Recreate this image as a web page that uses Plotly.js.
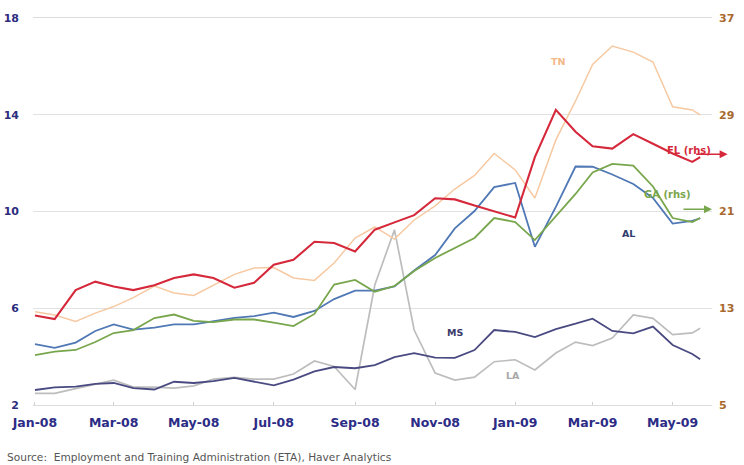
<!DOCTYPE html>
<html>
<head>
<meta charset="utf-8">
<script src="https://cdn.plot.ly/plotly-3.0.1.min.js"></script>
<style>html,body{margin:0;padding:0;background:#fff;}#chart{width:744px;height:465px;}</style>
</head>
<body>
<div id="chart"></div>
<script>
// Semi-monthly observation dates
const dates = [
  "2008-01-01","2008-01-16","2008-02-01","2008-02-16","2008-03-01","2008-03-16",
  "2008-04-01","2008-04-16","2008-05-01","2008-05-16","2008-06-01","2008-06-16",
  "2008-07-01","2008-07-16","2008-08-01","2008-08-16","2008-09-01","2008-09-16",
  "2008-10-01","2008-10-16","2008-11-01","2008-11-16","2008-12-01","2008-12-16",
  "2009-01-01","2009-01-16","2009-02-01","2009-02-16","2009-03-01","2009-03-16",
  "2009-04-01","2009-04-16","2009-05-01","2009-05-16","2009-05-22"
];
// Left-hand scale series
const TN = [5.86,5.72,5.45,5.80,6.07,6.44,6.92,6.63,6.53,6.94,7.40,7.66,7.68,7.25,7.15,7.87,8.90,9.36,8.86,9.65,10.23,10.93,11.49,12.40,11.72,10.56,12.96,14.57,16.08,16.84,16.59,16.18,14.33,14.20,13.99];
const AL = [4.52,4.36,4.58,5.06,5.33,5.12,5.20,5.33,5.33,5.47,5.60,5.67,5.82,5.64,5.89,6.38,6.73,6.73,6.90,7.56,8.20,9.30,10.02,11.01,11.18,8.54,10.19,11.86,11.85,11.53,11.14,10.56,9.50,9.61,9.72];
const MS = [2.62,2.73,2.76,2.87,2.91,2.70,2.64,2.96,2.91,2.99,3.12,2.95,2.81,3.05,3.39,3.57,3.52,3.65,3.98,4.14,3.96,3.95,4.27,5.10,5.02,4.81,5.14,5.36,5.57,5.06,4.96,5.24,4.48,4.11,3.89];
const LA = [2.48,2.48,2.68,2.87,3.03,2.74,2.74,2.70,2.79,3.07,3.14,3.07,3.07,3.28,3.82,3.59,2.64,6.96,9.24,5.10,3.32,3.03,3.15,3.79,3.87,3.45,4.15,4.60,4.46,4.77,5.72,5.58,4.91,4.98,5.17];
// Right-hand scale series
const FL = [12.4,12.1,14.5,15.2,14.8,14.5,14.9,15.5,15.8,15.5,14.7,15.1,16.6,17.0,18.5,18.4,17.7,19.5,20.1,20.7,22.1,22.0,21.5,21.0,20.5,25.5,29.4,27.6,26.4,26.2,27.4,26.6,25.8,25.1,25.5];
const GA = [9.13,9.41,9.55,10.21,10.95,11.20,12.19,12.48,11.95,11.86,12.07,12.07,11.82,11.53,12.53,14.96,15.34,14.37,14.84,16.08,17.16,17.98,18.81,20.46,20.13,18.64,20.63,22.45,24.23,24.93,24.80,23.07,20.46,20.13,20.46];

// Axis ticks
const tickDates = ["2008-01-01","2008-03-01","2008-05-01","2008-07-01","2008-09-01","2008-11-01","2009-01-01","2009-03-01","2009-05-01"];
const tickLabels = ["Jan-08","Mar-08","May-08","Jul-08","Sep-08","Nov-08","Jan-09","Mar-09","May-09"];
const leftTicks = [2,6,10,14,18];
const rightTicks = [5,13,21,29,37];
const sourceText = "Source:  Employment and Training Administration (ETA), Haver Analytics";

function line(y, color, width, axis){
  return {x: dates, y: y, type:'scatter', mode:'lines', yaxis: axis,
          line:{color:color, width:width}, hoverinfo:'skip'};
}
const traces = [
  line(LA, '#bdbdbd', 1.7, 'y'),
  line(MS, '#4a4a82', 1.8, 'y'),
  line(TN, '#f6c9a2', 1.5, 'y'),
  line(AL, '#4f78b5', 1.8, 'y'),
  line(GA, '#78a64c', 1.8, 'y2'),
  line(FL, '#d5283a', 2.1, 'y2')
];

const tf = (size,color)=>({family:'DejaVu Sans', size:size, color:color, weight:'bold'});

const layout = {
  width:744, height:465,
  margin:{l:33, r:32, t:18, b:60},
  paper_bgcolor:'#ffffff', plot_bgcolor:'#ffffff',
  showlegend:false,
  xaxis:{type:'date', range:['2007-12-30 12:00','2009-05-31'],
    tickmode:'array', tickvals:tickDates, ticktext:tickLabels,
    ticks:'inside', ticklen:3, tickcolor:'#cfcfcf',
    showline:true, mirror:true, linecolor:'#dcdcdc', linewidth:1.2,
    showgrid:false, zeroline:false,
    tickfont:tf(12.5,'#2c2c86'), ticklabelstandoff:6},
  yaxis:{range:[2,18], tickmode:'array', tickvals:leftTicks,
    ticks:'', showgrid:true, gridcolor:'#e2e2e2', gridwidth:1.2, zeroline:false,
    tickfont:tf(11,'#2c2c80'), ticklabelstandoff:13},
  yaxis2:{range:[5,37], tickmode:'array', tickvals:rightTicks,
    overlaying:'y', side:'right', ticks:'', showgrid:false, zeroline:false,
    tickfont:tf(11,'#a8692f'), ticklabelstandoff:6},
  annotations:[
    {xref:'paper', yref:'paper', x:0.7865, y:0.907, text:'TN', showarrow:false,
     font:tf(9.5,'#f3b887')},
    {xref:'paper', yref:'paper', x:1.002, y:0.677, text:'FL (rhs)', showarrow:false,
     font:tf(10,'#d5283a')},
    {xref:'paper', yref:'paper', x:1.023, y:0.648, text:'', showarrow:true,
     ax:-33, ay:0, arrowhead:2, arrowsize:1, arrowwidth:1.6, arrowcolor:'#d5283a'},
    {xref:'paper', yref:'paper', x:0.9725, y:0.545, text:'GA (rhs)', showarrow:false,
     font:tf(10,'#78a64c')},
    {xref:'paper', yref:'paper', x:1.0, y:0.506, text:'', showarrow:true,
     ax:-30, ay:0, arrowhead:2, arrowsize:1, arrowwidth:1.6, arrowcolor:'#78a64c'},
    {xref:'paper', yref:'paper', x:0.8895, y:0.444, text:'AL', showarrow:false,
     font:tf(9.5,'#2f3d6e')},
    {xref:'paper', yref:'paper', x:0.6215, y:0.168, text:'MS', showarrow:false,
     font:tf(9.5,'#3c3c6c')},
    {xref:'paper', yref:'paper', x:0.720, y:0.057, text:'LA', showarrow:false,
     font:tf(9.5,'#a8a8a8')},
    {xref:'paper', yref:'paper', x:-0.041, y:-0.134, xanchor:'left', yanchor:'middle',
     text:sourceText, showarrow:false,
     font:{family:'DejaVu Sans', size:10.6, color:'#555555'}}
  ]
};

Plotly.newPlot('chart', traces, layout, {staticPlot:true, displayModeBar:false});
</script>
</body>
</html>
